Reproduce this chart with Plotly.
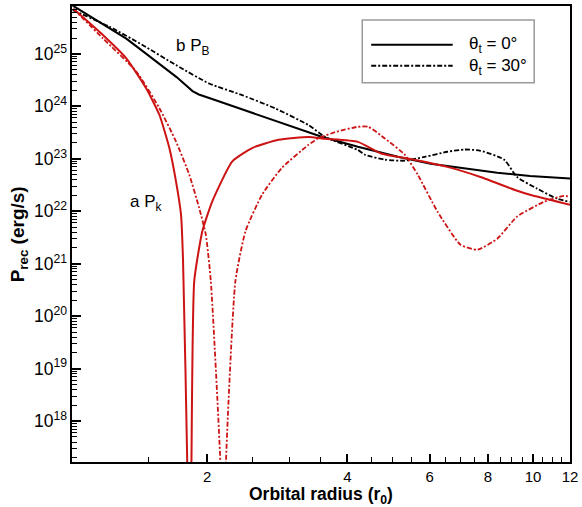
import plotly.graph_objects as go

# ---- data ----
# Black solid: P_B, theta_t = 0
pb0_x = [1.03, 1.20, 1.342, 1.46, 1.58, 1.72, 1.861, 1.92, 2.05, 2.19, 2.38, 2.58, 2.80, 3.04, 3.52,
         4.21, 5.13, 6.03, 7.13, 8.38, 9.85, 12.0]
pb0_y = [8.3e25, 3.6e25, 1.95e25, 1.1e25, 6.5e24, 3.6e24, 1.95e24, 1.68e24, 1.38e24, 1.13e24, 8.8e23,
         6.8e23, 5.3e23, 4.07e23, 2.62e23, 1.69e23, 1.09e23, 8.0e22, 6.45e22, 5.4e22, 4.7e22, 4.2e22]

# Black dash-dot: P_B, theta_t = 30
pb30_x = [1.03, 1.236, 1.456, 1.716, 2.02, 2.378, 2.80, 3.30, 3.58, 4.21, 4.36, 4.81, 5.31, 5.86,
          6.55, 7.13, 7.71, 8.67, 9.24, 10.2, 11.24, 12.0]
pb30_y = [6.8e25, 3.27e25, 1.46e25, 6.1e24, 2.72e24, 1.63e24, 9.1e23, 4.38e23, 2.62e23, 1.47e23,
          1.19e23, 9.6e22, 9.2e22, 1.09e23, 1.36e23, 1.5e23, 1.42e23, 9.6e22, 4.5e22, 2.7e22,
          1.75e22, 1.51e22]

# Red solid: P_k, theta_t = 0
pk0_x = [1.033, 1.197, 1.342, 1.48, 1.58, 1.66, 1.715, 1.758, 1.776, 1.815, 1.83, 1.85, 1.877,
         1.954, 2.053, 2.265, 2.498, 2.847, 3.30, 3.58, 4.21, 4.72, 5.39, 6.55, 7.71, 9.11, 9.85, 12.0]
pk0_y = [7.2e25, 2.26e25, 8.2e24, 2.2e24, 6.9e23, 1.6e23, 3.7e22, 8.7e21, 1.13e21, 1e17, 1e14, 1e17,
         4.7e20, 4.2e21, 1.56e22, 8.9e22, 1.6e23, 2.3e23, 2.6e23, 2.4e23, 2.1e23, 1.26e23, 1.01e23,
         7.0e22, 4.5e22, 2.57e22, 2.06e22, 1.33e22]

# Red dash-dot: P_k, theta_t = 30
pk30_x = [1.033, 1.197, 1.41, 1.58, 1.715, 1.831, 1.923, 1.987, 2.037, 2.14, 2.163, 2.19, 2.30,
          2.418, 2.624, 2.893, 3.30, 3.465, 3.80, 4.21, 4.43, 4.81, 5.31, 5.66, 6.24, 6.99, 7.6,
          8.38, 9.24, 10.55, 11.64, 12.0]
pk30_y = [7.2e25, 1.95e25, 4.6e24, 9.2e23, 2.14e23, 5.0e22, 1.16e22, 3.6e21, 4.7e20, 1e17, 1e14,
          1e17, 4.7e20, 4.2e21, 2.08e22, 6.7e22, 1.85e23, 2.47e23, 3.3e23, 4.07e23, 4.07e23,
          2.44e23, 1.19e23, 4.95e22, 9.8e21, 2.3e21, 1.85e21, 3.0e21, 7.9e21, 1.51e22, 1.97e22,
          1.89e22]

x_ticks = [2, 4, 6, 8, 10, 12]
x_minor = [1.5, 2.5, 3, 3.5, 4.5, 5, 5.5, 6.5, 7, 7.5, 8.5, 9, 9.5, 10.5, 11, 11.5]
legend_labels = ["θ<sub>t</sub> = 0°", "θ<sub>t</sub> = 30°"]

RED = "#cc1414"
DASHDOT = "5px,2px,2px,2px"
FONT = "Liberation Sans, Arial, sans-serif"

fig = go.Figure()
fig.add_trace(go.Scatter(x=pb0_x, y=pb0_y, mode="lines", line=dict(color="black", width=2)))
fig.add_trace(go.Scatter(x=pb30_x, y=pb30_y, mode="lines",
                         line=dict(color="black", width=1.8, dash=DASHDOT, shape="spline", smoothing=0.6)))
fig.add_trace(go.Scatter(x=pk0_x, y=pk0_y, mode="lines",
                         line=dict(color=RED, width=2, shape="spline", smoothing=0.5)))
fig.add_trace(go.Scatter(x=pk30_x, y=pk30_y, mode="lines",
                         line=dict(color=RED, width=1.8, dash=DASHDOT, shape="spline", smoothing=0.5)))

fig.update_layout(
    width=582, height=507,
    margin=dict(l=72, r=9, t=4, b=45),
    paper_bgcolor="white", plot_bgcolor="white",
    showlegend=False,
    font=dict(family=FONT, size=15, color="black"),
)
fig.update_xaxes(
    type="log", range=[0.0113, 1.0792],
    tickmode="array", tickvals=x_ticks, ticktext=[str(v) for v in x_ticks],
    ticks="inside", ticklen=8, tickwidth=2, tickcolor="black",
    minor=dict(tickmode="array", tickvals=x_minor, ticks="inside", ticklen=5, tickwidth=1, tickcolor="black"),
    showline=True, linewidth=2, linecolor="black", mirror=True,
    showgrid=False, zeroline=False,
    tickfont=dict(size=15),
)
fig.update_yaxes(
    type="log", range=[17.222, 25.911],
    dtick=1, exponentformat="power", showexponent="all",
    ticks="inside", ticklen=9, tickwidth=2, tickcolor="black",
    minor=dict(dtick="D1", ticks="inside", ticklen=5, tickwidth=1, tickcolor="black"),
    showline=True, linewidth=2, linecolor="black", mirror=True,
    showgrid=False, zeroline=False,
    tickfont=dict(size=14),
)

# axis titles
fig.add_annotation(xref="paper", yref="paper", x=0.5, y=(462 - 496) / 458, showarrow=False,
                   text="<b>Orbital radius (r<sub>0</sub>)</b>", font=dict(size=17.5), borderpad=0,
                   xanchor="center", yanchor="middle")
fig.add_annotation(xref="paper", yref="paper", x=(19 - 72) / 501, y=0.5, showarrow=False, textangle=-90,
                   text="<b>P<sub>rec</sub> (erg/s)</b>", font=dict(size=19),
                   xanchor="center", yanchor="middle")

# curve labels
fig.add_annotation(xref="paper", yref="paper", x=(175 - 72) / 501, y=(462 - 45) / 458, showarrow=False,
                   text="b P<sub>B</sub>", font=dict(size=17), xanchor="left", yanchor="middle")
fig.add_annotation(xref="paper", yref="paper", x=(128 - 72) / 501, y=(462 - 202) / 458, showarrow=False,
                   text="a P<sub>k</sub>", font=dict(size=17), xanchor="left", yanchor="middle")

# legend (drawn)
def px(v):
    return (v - 72) / 501

def py(v):
    return (462 - v) / 458

fig.add_shape(type="rect", xref="paper", yref="paper", x0=px(364), x1=px(537), y0=py(81), y1=py(18),
              line=dict(color="#9a9a9a", width=1.5), fillcolor="white")
fig.add_shape(type="line", xref="paper", yref="paper", x0=px(373), x1=px(455), y0=py(43), y1=py(43),
              line=dict(color="black", width=2))
fig.add_shape(type="line", xref="paper", yref="paper", x0=px(373), x1=px(455), y0=py(64), y1=py(64),
              line=dict(color="black", width=1.8, dash=DASHDOT))
fig.add_annotation(xref="paper", yref="paper", x=px(469), y=py(43), showarrow=False,
                   text=legend_labels[0], font=dict(size=17), xanchor="left", yanchor="middle")
fig.add_annotation(xref="paper", yref="paper", x=px(469), y=py(65), showarrow=False,
                   text=legend_labels[1], font=dict(size=17), xanchor="left", yanchor="middle")

fig.write_html("out.html")
